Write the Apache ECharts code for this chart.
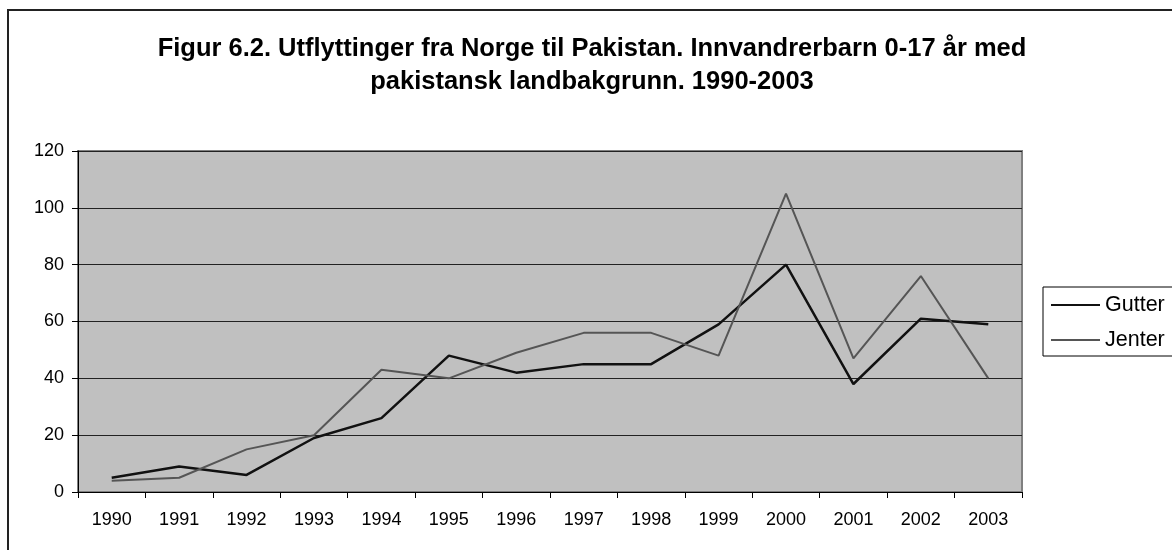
<!DOCTYPE html>
<html>
<head>
<meta charset="utf-8">
<script src="https://cdn.jsdelivr.net/npm/echarts@6/dist/echarts.min.js"></script>
<style>
  html, body { margin: 0; padding: 0; background: #fff; }
  #chart { width: 1172px; height: 550px; }
</style>
</head>
<body>
<div id="chart"></div>
<script>
const years = ['1990', '1991', '1992', '1993', '1994', '1995', '1996', '1997', '1998', '1999', '2000', '2001', '2002', '2003'];
const gutter = [5, 9, 6, 19, 26, 48, 42, 45, 45, 59, 80, 38, 61, 59];
const jenter = [4, 5, 15, 20, 43, 40, 49, 56, 56, 48, 105, 47, 76, 40];

const font = 'Liberation Sans, Arial, sans-serif';
let myChart = echarts.init(document.getElementById('chart'));
myChart.setOption({
  animation: false,
  textStyle: { fontFamily: font },
  title: {
    text: 'Figur 6.2. Utflyttinger fra Norge til Pakistan. Innvandrerbarn 0-17 år med\npakistansk landbakgrunn. 1990-2003',
    left: 587,
    textAlign: 'center',
    top: 27,
    textStyle: { fontFamily: font, fontSize: 25.5, fontWeight: 'bold', color: '#000', lineHeight: 33 }
  },
  graphic: [{
    type: 'rect',
    shape: { x: 8, y: 10, width: 1300, height: 700 },
    style: { fill: 'none', stroke: '#222', lineWidth: 2 },
    silent: true
  }],
  legend: {
    orient: 'vertical',
    left: 1043,
    top: 287,
    borderColor: '#000',
    borderWidth: 1,
    borderRadius: 0,
    padding: [6, 40, 4, 8],
    itemGap: 11,
    itemWidth: 49,
    itemHeight: 2,
    icon: 'rect',
    textStyle: { fontFamily: font, fontSize: 21.5, lineHeight: 24, color: '#000', padding: [0, 0, 0, 0] },
    data: ['Gutter', 'Jenter']
  },
  grid: {
    left: 78,
    right: 150,
    top: 151,
    bottom: 58,
    show: true,
    backgroundColor: '#c0c0c0',
    borderColor: '#808080',
    borderWidth: 2
  },
  xAxis: {
    type: 'category',
    data: years,
    boundaryGap: true,
    axisLine: { lineStyle: { color: '#000', width: 1 } },
    axisTick: { show: true, interval: 0, length: 6, lineStyle: { color: '#000' } },
    axisLabel: { color: '#000', fontSize: 18, margin: 19 }
  },
  yAxis: {
    type: 'value',
    min: 0,
    max: 120,
    interval: 20,
    axisLine: { show: true, lineStyle: { color: '#000', width: 1 } },
    axisTick: { show: true, length: 6, lineStyle: { color: '#000' } },
    axisLabel: { color: '#000', fontSize: 18, margin: 14 },
    splitLine: { lineStyle: { color: '#222', width: 1 } }
  },
  series: [
    {
      name: 'Gutter',
      type: 'line',
      data: gutter,
      symbol: 'none',
      color: '#111',
      lineStyle: { color: '#111', width: 2.5 }
    },
    {
      name: 'Jenter',
      type: 'line',
      data: jenter,
      symbol: 'none',
      color: '#555',
      lineStyle: { color: '#555', width: 2 }
    }
  ]
});
</script>
</body>
</html>
